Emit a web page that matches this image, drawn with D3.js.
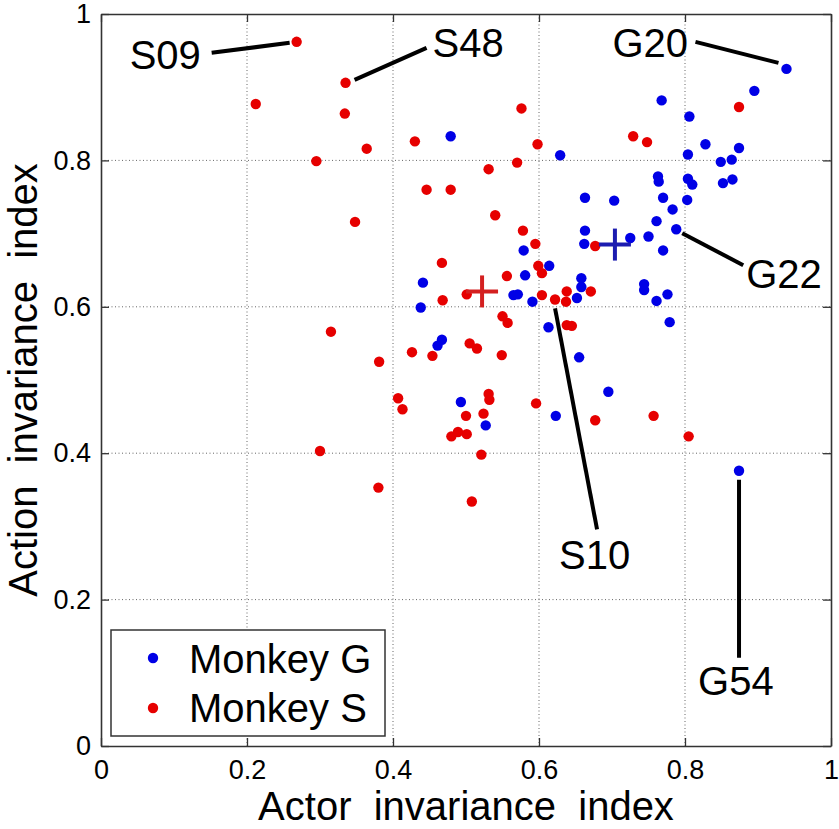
<!DOCTYPE html>
<html>
<head>
<meta charset="utf-8">
<script src="https://cdn.jsdelivr.net/npm/d3@7"></script>
<style>
  html, body { margin: 0; padding: 0; background: #fff; }
  svg { display: block; font-family: "Liberation Sans", Arial, sans-serif; }
</style>
</head>
<body>
<svg id="chart" width="839" height="829"></svg>
<script>
// ---------------- data ----------------
const monkeyGx = [0.479,0.629,0.663,0.663,0.662,0.579,0.939,0.895,0.768,0.806,0.828,0.874,0.804,0.849,0.864,0.763,0.764,0.804,0.810,0.852,0.865,0.770,0.803,0.783,0.703,0.761,0.788,0.750,0.725,0.770,0.614,0.581,0.441,0.658,0.658,0.565,0.571,0.652,0.591,0.438,0.613,0.467,0.461,0.655,0.493,0.623,0.527,0.744,0.744,0.761,0.776,0.779,0.695,0.874];
const monkeyGy = [0.833,0.807,0.749,0.704,0.686,0.677,0.925,0.895,0.882,0.860,0.822,0.817,0.808,0.798,0.801,0.778,0.771,0.775,0.767,0.769,0.774,0.749,0.746,0.733,0.745,0.717,0.706,0.696,0.694,0.677,0.656,0.643,0.633,0.639,0.627,0.616,0.617,0.612,0.607,0.599,0.572,0.555,0.547,0.531,0.470,0.451,0.438,0.631,0.623,0.608,0.617,0.579,0.484,0.376];

const monkeySx = [0.268,0.212,0.335,0.334,0.364,0.295,0.348,0.430,0.576,0.598,0.570,0.531,0.446,0.479,0.540,0.677,0.578,0.595,0.467,0.874,0.729,0.748,0.599,0.604,0.556,0.501,0.468,0.604,0.622,0.638,0.637,0.671,0.550,0.557,0.638,0.645,0.505,0.515,0.426,0.454,0.549,0.381,0.407,0.413,0.531,0.532,0.596,0.677,0.500,0.524,0.480,0.489,0.501,0.521,0.380,0.508,0.315,0.300,0.757,0.805];
const monkeySy = [0.962,0.877,0.906,0.864,0.816,0.799,0.716,0.826,0.871,0.822,0.797,0.788,0.760,0.760,0.725,0.683,0.704,0.686,0.660,0.873,0.833,0.825,0.656,0.646,0.642,0.617,0.609,0.616,0.610,0.621,0.607,0.621,0.587,0.578,0.575,0.574,0.550,0.543,0.538,0.533,0.534,0.525,0.475,0.460,0.481,0.473,0.468,0.445,0.451,0.454,0.423,0.429,0.426,0.398,0.353,0.334,0.566,0.403,0.451,0.423];

// population means (crosses)
const meanNames = ["G", "S"];
const meanX = [0.704, 0.522];
const meanY = [0.685, 0.621];

// annotated neurons
const annNames = ["S09", "S48", "G20", "G22", "S10", "G54"];
const annX = [0.268, 0.335, 0.939, 0.788, 0.622, 0.874];
const annY = [0.962, 0.906, 0.925, 0.706, 0.610, 0.376];

const tickValues = [0, 0.2, 0.4, 0.6, 0.8, 1];
const tickLabels = ["0", "0.2", "0.4", "0.6", "0.8", "1"];
const legendLabels = ["Monkey G", "Monkey S"];
const xTitle = "Actor  invariance  index";
const yTitle = "Action  invariance  index";

// ---------------- layout ----------------
const L = 101, R = 831, T = 14, B = 746;
const colG = "#0000e6", colS = "#e60000";
const crossCol = {G: "#1c1cb0", S: "#d42020"};

const svg = d3.select("#chart");
const x = d3.scaleLinear().domain([0, 1]).range([L, R]);
const y = d3.scaleLinear().domain([0, 1]).range([B, T]);

// grid
const grid = svg.append("g");
grid.selectAll("line.gx").data(tickValues.slice(1, -1)).join("line")
  .attr("x1", d => x(d)).attr("x2", d => x(d)).attr("y1", T).attr("y2", B)
  .attr("stroke", "#666").attr("stroke-width", 1).attr("stroke-dasharray", "1,2.5");
grid.selectAll("line.gy").data(tickValues.slice(1, -1)).join("line")
  .attr("y1", d => y(d)).attr("y2", d => y(d)).attr("x1", L).attr("x2", R)
  .attr("stroke", "#666").attr("stroke-width", 1).attr("stroke-dasharray", "1,2.5");

// axes (ticks inward on all sides)
const fmt = d => tickLabels[tickValues.indexOf(d)];
const axB = svg.append("g").attr("transform", `translate(0,${B})`)
  .call(d3.axisBottom(x).tickValues(tickValues).tickFormat(fmt).tickSizeInner(-8).tickSizeOuter(0).tickPadding(14));
const axL = svg.append("g").attr("transform", `translate(${L},0)`)
  .call(d3.axisLeft(y).tickValues(tickValues).tickFormat(fmt).tickSizeInner(-8).tickSizeOuter(0).tickPadding(10));
const axT = svg.append("g").attr("transform", `translate(0,${T})`)
  .call(d3.axisTop(x).tickValues(tickValues).tickFormat("").tickSizeInner(-8).tickSizeOuter(0));
const axR = svg.append("g").attr("transform", `translate(${R},0)`)
  .call(d3.axisRight(y).tickValues(tickValues).tickFormat("").tickSizeInner(-8).tickSizeOuter(0));
[axB, axL, axT, axR].forEach(a => {
  a.select(".domain").attr("stroke", "#333").attr("stroke-width", 1.6);
  a.selectAll(".tick line").attr("stroke", "#333").attr("stroke-width", 1.3);
  a.selectAll("text").attr("font-size", 27).attr("fill", "#000")
    .attr("font-family", "Liberation Sans, Arial, sans-serif");
});
axB.selectAll(".tick text").attr("dy", "0.71em");

// points
svg.append("g").selectAll("circle").data(monkeyGx.map((v, i) => [v, monkeyGy[i]])).join("circle")
  .attr("cx", d => x(d[0])).attr("cy", d => y(d[1])).attr("r", 5.2).attr("fill", colG);
svg.append("g").selectAll("circle").data(monkeySx.map((v, i) => [v, monkeySy[i]])).join("circle")
  .attr("cx", d => x(d[0])).attr("cy", d => y(d[1])).attr("r", 5.2).attr("fill", colS);

// mean crosses
const crosses = svg.append("g");
meanNames.forEach((n, i) => {
  const cx = x(meanX[i]), cy = y(meanY[i]);
  crosses.append("line").attr("x1", cx - 16).attr("x2", cx + 16).attr("y1", cy).attr("y2", cy)
    .attr("stroke", crossCol[n]).attr("stroke-width", 4);
  crosses.append("line").attr("x1", cx).attr("x2", cx).attr("y1", cy - 16).attr("y2", cy + 16)
    .attr("stroke", crossCol[n]).attr("stroke-width", 4);
});

// annotations: leader line start offset from point, line end (px offset from point), text anchor offset
const annLayout = {
  S09: {s: [-7, 1],  e: [-85, 11],  t: [-167, 27]},
  S48: {s: [9, -3],  e: [81, -35],  t: [87, -26]},
  G20: {s: [-8, -6], e: [-91, -27], t: [-174, -12]},
  G22: {s: [6, 4],   e: [67, 36],   t: [70, 59]},
  S10: {s: [0, 9],   e: [42, 230],  t: [4, 270]},
  G54: {s: [0, 9],   e: [0, 187],   t: [-41, 224]}
};
const ann = svg.append("g");
annNames.forEach((n, i) => {
  const px = x(annX[i]), py = y(annY[i]), lay = annLayout[n];
  ann.append("line")
    .attr("x1", px + lay.s[0]).attr("y1", py + lay.s[1])
    .attr("x2", px + lay.e[0]).attr("y2", py + lay.e[1])
    .attr("stroke", "#000").attr("stroke-width", 4);
  ann.append("text").attr("x", px + lay.t[0]).attr("y", py + lay.t[1])
    .attr("font-size", 40).attr("fill", "#000").text(n);
});

// legend
const leg = svg.append("g");
leg.append("rect").attr("x", 111).attr("y", 630).attr("width", 274).attr("height", 106)
  .attr("fill", "#fff").attr("stroke", "#333").attr("stroke-width", 1.5);
[colG, colS].forEach((c, i) => {
  leg.append("circle").attr("cx", 153).attr("cy", 658 + i * 50).attr("r", 5.2).attr("fill", c);
  leg.append("text").attr("x", 189).attr("y", 673 + i * 49).attr("font-size", 40).attr("fill", "#000")
    .text(legendLabels[i]);
});

// axis titles
svg.append("text").attr("x", (L + R) / 2).attr("y", 820).attr("text-anchor", "middle")
  .attr("font-size", 40).style("white-space", "pre").attr("fill", "#000").text(xTitle);

svg.append("text")
  .attr("transform", `translate(37,${(T + B) / 2}) rotate(-90)`)
  .attr("text-anchor", "middle").attr("font-size", 40).attr("fill", "#000")
  .style("white-space", "pre").text(yTitle);
</script>
</body>
</html>
